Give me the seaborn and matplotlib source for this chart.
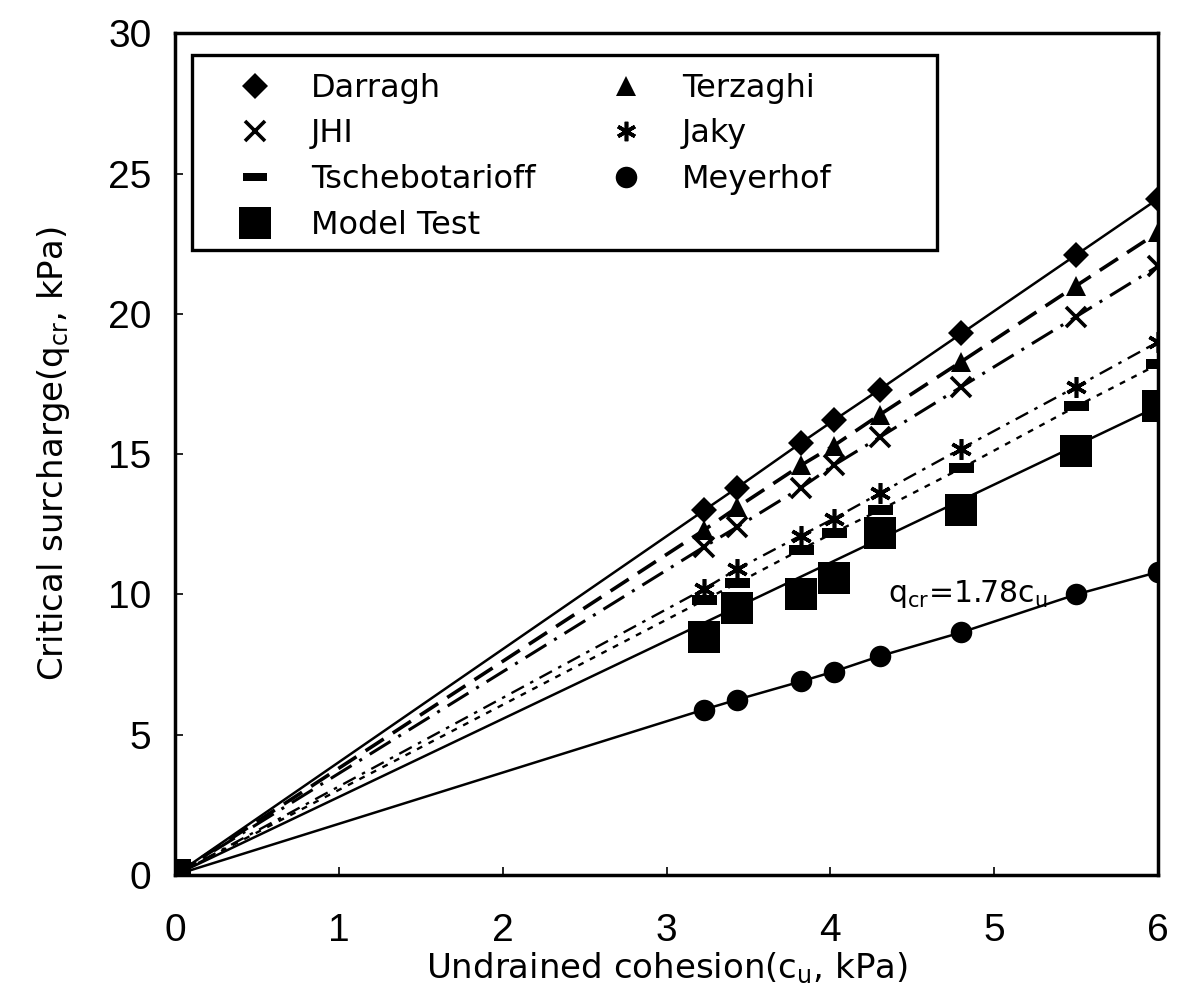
import numpy as np
import pandas as pd
import matplotlib
matplotlib.use("Agg")
import matplotlib.pyplot as plt
from matplotlib.lines import Line2D
from matplotlib.patches import Rectangle
import seaborn as sns

# ---- data ----
cu = [0, 3.23, 3.43, 3.82, 4.02, 4.30, 4.80, 5.50, 6.00]
darragh = [0, 13.0, 13.8, 15.4, 16.2, 17.3, 19.3, 22.1, 24.1]
terzaghi = [0, 12.3, 13.1, 14.6, 15.3, 16.4, 18.3, 21.0, 22.9]
jhi = [0, 11.7, 12.4, 13.8, 14.6, 15.6, 17.4, 19.9, 21.7]
jaky = [0, 10.2, 10.9, 12.1, 12.7, 13.6, 15.2, 17.4, 19.0]
tscheb = [0, 9.8, 10.4, 11.6, 12.2, 13.0, 14.5, 16.7, 18.2]
meyerhof = [0, 5.9, 6.25, 6.9, 7.25, 7.8, 8.65, 10.0, 10.8]
model_test = [0, 8.5, 9.5, 10.0, 10.6, 12.2, 13.0, 15.1, 16.7]
fit_x = [0, 6]
fit_y = [0, 16.7]
annotation = "q$_{\\mathrm{cr}}$=1.78c$_{\\mathrm{u}}$"
x_ticks = [0, 1, 2, 3, 4, 5, 6]
y_ticks = [0, 5, 10, 15, 20, 25, 30]

sns.set_theme(style="white")
plt.rcParams['font.family'] = ['DejaVu Sans']
plt.rcParams['mathtext.fontset'] = 'custom'
plt.rcParams['mathtext.rm'] = 'DejaVu Sans'
plt.rcParams['mathtext.it'] = 'DejaVu Sans'
plt.rcParams['text.color'] = 'black'
plt.rcParams['axes.labelcolor'] = 'black'
plt.rcParams['xtick.color'] = 'black'
plt.rcParams['ytick.color'] = 'black'

fig = plt.figure(figsize=(11.93, 10.07), dpi=100)
ax = fig.add_axes([0.1467, 0.131, 0.824, 0.836])

dash_marker = [(-1, -0.38), (1, -0.38), (1, 0.38), (-1, 0.38), (-1, -0.38)]

series = [
    ("Darragh", darragh, "D", 13.5, None, 1.8),
    ("Terzaghi", terzaghi, "^", 15, (6, 3), 2.6),
    ("JHI", jhi, "x", 14, (8, 3, 1, 3), 2.2),
    ("Jaky", jaky, (6, 2, 0), 15, (6, 3, 1.5, 3), 1.7),
    ("Tschebotarioff", tscheb, dash_marker, 18, (2.5, 3), 1.7),
    ("Meyerhof", meyerhof, "o", 15.5, None, 1.8),
]

for name, ys, mk, ms, dashes, lw in series:
    df = pd.DataFrame({"x": cu, "y": ys})
    sns.lineplot(data=df, x="x", y="y", ax=ax, color="black", lw=lw,
                 estimator=None, sort=False, marker=mk, markersize=ms,
                 markeredgewidth=2.6 if mk in ("x", (6, 2, 0)) else 0,
                 markeredgecolor="black", markerfacecolor="black")
    if dashes is not None:
        ax.lines[-1].set_dashes(dashes)

# model test: trend line + points
sns.lineplot(x=fit_x, y=fit_y, ax=ax, color="black", lw=1.8, estimator=None)
sns.scatterplot(x=cu, y=model_test, ax=ax, marker="s", s=500, color="black",
                edgecolor="black", linewidth=0, zorder=5)

ax.text(4.35, 10.0, annotation, fontsize=21.5, va="center", ha="left")

ax.set_xlim(0, 6)
ax.set_ylim(0, 30)
ax.set_xticks(x_ticks)
ax.set_yticks(y_ticks)
ax.tick_params(axis="both", direction="in", length=6, width=1.2,
               labelsize=28, bottom=True, left=True)
ax.tick_params(axis="x", pad=27)
ax.tick_params(axis="y", pad=17)
for lab in ax.get_xticklabels() + ax.get_yticklabels():
    lab.set_fontfamily('Liberation Sans')
for sp in ax.spines.values():
    sp.set_visible(True)
    sp.set_color("black")
    sp.set_linewidth(2.5)

ax.set_xlabel("Undrained cohesion(c$_{\\mathrm{u}}$, kPa)", fontsize=24.5, labelpad=1)
ax.set_ylabel("Critical surcharge(q$_{\\mathrm{cr}}$, kPa)", fontsize=24.5, labelpad=26)

# legend frame
ax.add_patch(Rectangle((0.0173, 0.742), 0.775 - 0.0173, 0.974 - 0.742,
                       transform=ax.transAxes, fill=True, facecolor="white",
                       edgecolor="black", lw=2.4, zorder=6))

h1 = [
    Line2D([], [], ls="none", marker="D", ms=13.5, color="black", mew=0),
    Line2D([], [], ls="none", marker="x", ms=14, color="black", mew=2.6),
    Line2D([], [], ls="none", marker=dash_marker, ms=17, color="black", mew=0),
    Line2D([], [], ls="none", marker="s", ms=23, color="black", mew=0),
]
l1 = ["Darragh", "JHI", "Tschebotarioff", "Model Test"]
h2 = [
    Line2D([], [], ls="none", marker="^", ms=15, color="black", mew=0),
    Line2D([], [], ls="none", marker=(6, 2, 0), ms=14, color="black", mew=2.6),
    Line2D([], [], ls="none", marker="o", ms=15.5, color="black", mew=0),
]
l2 = ["Terzaghi", "Jaky", "Meyerhof"]

common = dict(loc="upper left", fontsize=23, frameon=False, borderpad=0,
              labelspacing=0.46, handletextpad=0.95, handlelength=1.6,
              borderaxespad=0)
leg1 = ax.legend(h1, l1, bbox_to_anchor=(0.0554, 0.953), **common)
leg1.set_zorder(7)
ax.add_artist(leg1)
leg2 = ax.legend(h2, l2, bbox_to_anchor=((600.5 - 175) / 983, 0.953), **common)
leg2.set_zorder(7)

fig.savefig("out.png", dpi=100)
